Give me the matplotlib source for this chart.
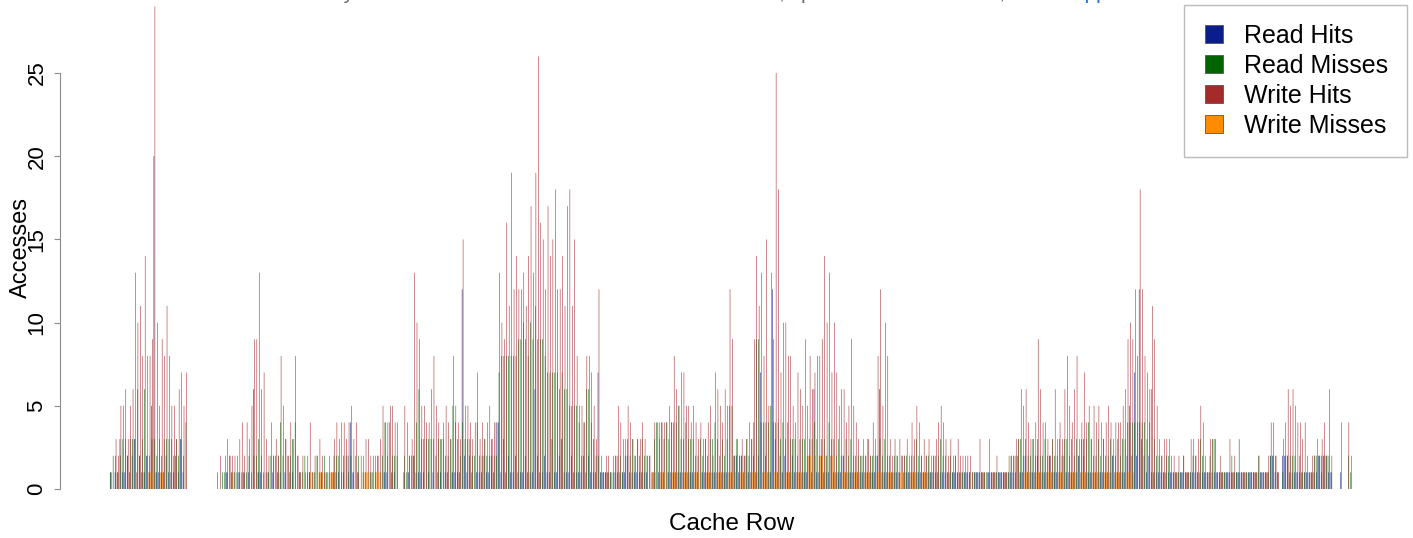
import numpy as np
import matplotlib
matplotlib.use('Agg')
import matplotlib.pyplot as plt
from matplotlib.lines import Line2D

# one value per cache row (512 rows)
series_names = ['Read Hits', 'Read Misses', 'Write Hits', 'Write Misses']
series_colors = ['#0b1d8c', '#006400', '#a52a2a', '#ff8c00']

read_hits = [
    1,0,1,1,3,1,1,2, 1,2,3,1,2,1,1,2, 1,5,20,1,1,1,1,2, 1,1,1,2,1,3,1,0,
    0,0,0,0,0,0,0,0, 0,0,0,0,0,0,0,0, 1,0,1,0,0,1,0,1, 0,1,0,6,0,1,1,0,
    0,1,0,1,0,1,1,0, 1,0,1,1,0,0,1,0, 0,0,1,0,0,0,0,1, 0,0,0,0,1,1,1,0,
    1,0,2,4,1,0,1,0, 0,0,0,0,0,0,0,0, 0,1,1,0,1,1,0,0, 0,1,0,1,0,2,1,1,
    1,1,0,1,0,1,0,1, 1,0,1,1,0,1,1,1, 1,12,2,1,2,1,0,1, 1,1,2,1,1,2,1,4,
    4,1,3,1,2,1,1,2, 1,1,1,2,1,1,1,6, 2,1,1,2,1,1,3,1, 1,2,3,1,1,1,2,1,
    1,1,1,2,1,2,1,1, 1,7,1,1,1,1,1,0, 1,1,1,1,1,2,1,1, 1,1,1,1,1,1,0,0,
    1,0,1,1,1,0,1,1, 1,1,1,1,1,1,1,1, 1,1,1,0,1,1,1,1, 1,1,1,1,1,1,1,1,
    1,2,2,1,2,1,2,1, 1,2,1,2,7,1,2,1, 1,12,3,1,2,1,2,1, 1,2,1,1,1,1,1,1,
    2,1,6,1,1,2,1,1, 1,2,1,1,1,1,2,1, 1,1,1,1,1,1,1,1, 1,1,1,1,2,6,1,1,
    1,1,1,1,1,1,0,1, 1,1,1,1,1,1,1,1, 1,1,1,1,1,1,1,1, 1,1,1,1,1,1,1,1,
    1,1,1,0,1,1,1,1, 1,0,1,1,1,1,1,1, 1,1,1,1,1,1,2,1, 1,2,1,1,1,1,2,1,
    1,1,1,2,1,1,1,1, 1,2,1,1,1,1,1,2, 1,3,1,1,1,1,1,1, 1,1,1,1,1,2,1,1,
    1,1,1,2,5,2,7,2, 12,3,2,1,2,1,1,1, 1,1,1,1,1,1,1,1, 1,1,1,1,1,1,1,1,
    1,1,1,1,1,1,1,1, 1,1,1,1,1,1,1,1, 1,1,1,1,1,1,1,1, 1,1,1,1,1,1,2,2,
    1,1,0,2,2,2,1,1, 1,1,1,1,1,1,1,1, 1,1,2,2,2,2,1,1, 0,0,0,1,0,0,0,0,
]

read_misses = [
    1,2,2,1,2,3,3,2, 3,3,3,6,2,3,6,2, 2,3,3,2,3,2,3,3, 3,3,2,3,2,3,2,4,
    0,0,0,0,0,0,0,0, 0,0,0,0,1,0,1,1, 1,2,1,1,1,1,1,1, 1,2,1,2,2,3,2,1,
    1,1,2,2,2,2,4,2, 3,2,2,3,4,2,1,1, 2,1,1,1,1,2,1,1, 2,1,1,1,2,2,2,1,
    2,2,1,2,1,2,2,0, 1,1,1,1,1,1,2,1, 2,4,2,4,2,2,2,0, 0,2,1,2,2,2,4,6,
    3,3,3,3,3,3,2,3, 3,3,2,2,3,5,4,3, 2,4,3,3,3,2,2,4, 2,2,3,2,2,3,2,2,
    7,8,8,8,8,8,8,8, 9,9,10,9,8,10,9,11, 9,9,9,8,7,7,7,7, 7,6,7,6,6,5,5,5,
    5,4,2,4,6,6,4,3, 2,2,1,1,1,1,1,1, 2,2,2,1,2,3,2,3, 2,3,2,3,2,2,2,1,
    3,4,4,4,3,4,3,4, 4,4,5,3,3,4,3,3, 3,2,2,3,2,3,2,3, 3,4,3,2,3,2,3,5,
    5,2,3,2,2,2,3,2, 3,4,9,9,4,4,4,4, 5,4,4,4,3,4,3,4, 3,3,3,2,3,3,3,2,
    3,3,4,3,2,3,3,2, 4,3,3,2,3,2,2,3, 2,3,2,2,2,2,2,2, 3,2,2,2,2,3,2,3,
    2,2,1,2,2,1,2,2, 2,1,2,2,3,2,2,1, 2,2,1,2,2,2,3,2, 2,1,2,1,2,1,1,1,
    1,1,1,1,1,1,1,1, 1,1,1,1,1,1,1,1, 1,1,1,2,2,2,3,3, 2,3,2,2,3,2,3,2,
    2,3,2,2,3,2,2,3, 2,3,3,2,3,2,3,2, 3,2,3,4,3,2,2,3, 2,3,2,2,3,2,2,3,
    2,3,3,4,4,4,4,4, 4,4,4,3,4,6,3,2, 2,2,1,2,2,1,1,1, 1,1,2,1,1,1,2,2,
    1,3,2,1,1,2,3,3, 1,1,1,1,1,1,2,1, 1,3,1,1,1,1,1,1, 1,2,1,1,1,1,2,2,
    2,1,0,1,2,2,2,2, 2,1,2,1,1,1,1,1, 2,2,2,1,2,2,2,1, 0,0,0,0,0,0,2,1,
]

write_hits = [
    1,0,3,2,5,5,6,3, 5,6,13,10,11,8,14,8, 8,9,29,10,5,9,8,11, 8,5,5,3,6,7,5,7,
    0,0,0,0,0,0,0,0, 0,0,0,0,0,2,0,2, 3,2,2,2,2,3,4,2, 4,3,5,9,9,13,6,7,
    3,2,4,2,3,2,8,5, 3,2,4,3,8,2,1,2, 1,2,4,1,2,2,3,2, 1,1,2,1,3,4,3,4,
    4,3,4,5,3,4,1,2, 2,3,3,2,2,2,2,3, 5,4,4,5,5,4,4,0, 0,5,4,2,3,13,10,9,
    5,5,4,4,6,8,5,4, 3,4,5,4,3,8,5,4, 3,15,5,5,4,3,4,7, 3,4,3,4,5,3,4,4,
    13,10,9,16,11,19,12,14, 12,12,13,11,14,17,13,19, 26,16,15,12,17,14,15,18, 12,12,14,11,17,18,11,15,
    8,5,5,4,8,8,7,5, 3,12,2,1,2,2,1,2, 2,5,4,3,3,5,4,3, 2,3,3,4,3,2,2,1,
    4,4,3,4,4,4,5,4, 8,6,5,7,7,5,5,4, 5,4,3,4,3,3,4,5, 2,7,6,5,4,6,5,12,
    9,2,3,2,3,2,3,4, 3,9,14,11,13,8,15,5, 13,9,25,18,7,10,10,8, 8,5,4,7,6,5,9,5,
    8,6,7,8,8,9,14,10, 13,7,10,7,5,6,6,4, 5,9,5,4,3,2,3,2, 3,2,4,3,8,12,5,10,
    8,3,2,3,2,3,2,2, 3,2,4,3,5,4,2,3, 2,3,2,2,3,4,5,4, 3,2,3,2,2,3,2,2,
    2,2,2,1,1,1,3,1, 1,1,3,1,1,2,1,1, 1,1,2,2,2,3,3,6, 5,6,4,3,3,4,9,6,
    4,4,3,2,3,6,3,4, 3,6,8,5,4,6,8,3, 4,7,4,5,3,5,4,5, 4,3,4,5,4,3,4,4,
    4,5,6,9,10,9,12,8, 18,12,8,7,6,11,9,5, 3,2,3,3,3,2,2,1, 2,1,2,1,1,3,3,2,
    3,5,4,2,1,3,3,3, 1,2,1,1,1,3,1,2, 1,1,1,1,1,1,1,1, 1,2,1,1,1,2,4,4,
    2,1,0,3,4,6,5,6, 5,4,4,3,4,2,1,2, 2,3,2,3,4,2,6,2, 0,0,0,4,0,0,4,2,
]

write_misses = [
    0,0,0,0,0,0,0,0, 0,0,1,0,0,1,0,1, 1,1,1,0,1,1,0,0, 1,0,0,0,0,0,0,0,
    0,0,0,0,0,0,0,0, 0,0,0,0,0,0,0,0, 0,0,1,0,0,0,0,0, 0,0,0,0,1,0,0,0,
    0,0,0,0,0,0,0,0, 0,0,0,0,0,0,0,0, 0,0,1,1,1,1,1,1, 1,1,1,1,1,0,0,0,
    0,0,0,0,0,0,0,1, 1,1,1,1,1,1,1,1, 1,0,0,0,0,0,0,0, 0,0,1,0,0,0,0,0,
    0,0,0,1,0,0,0,0, 0,0,0,0,1,0,0,0, 0,0,0,0,0,0,0,0, 0,0,0,0,0,0,0,0,
    0,0,0,0,0,0,0,0, 0,0,0,0,0,0,0,0, 0,0,0,0,0,0,0,0, 0,0,0,0,0,0,0,0,
    0,0,0,0,0,0,0,0, 0,0,0,0,0,0,0,0, 0,0,0,0,0,0,0,0, 0,0,0,0,0,0,0,1,
    1,1,1,1,1,1,1,1, 1,1,1,1,1,1,1,1, 1,1,1,1,1,1,1,1, 1,1,1,1,1,1,1,1,
    1,1,1,1,1,1,1,1, 1,1,1,1,1,1,1,1, 1,1,1,1,1,1,1,1, 1,1,1,1,1,1,2,2,
    2,2,2,2,2,2,2,2, 2,2,1,1,1,1,1,1, 1,1,1,1,1,1,1,1, 1,1,1,1,1,1,1,1,
    1,1,1,1,1,1,1,1, 1,1,1,1,1,1,1,1, 1,1,1,0,0,0,0,0, 0,0,0,0,0,0,0,0,
    0,0,0,0,0,0,0,0, 0,0,0,0,0,0,0,0, 0,0,0,0,0,0,1,1, 1,1,1,1,1,1,1,1,
    1,1,1,1,1,1,1,1, 1,1,1,1,1,1,1,1, 1,1,1,1,1,1,1,1, 1,1,1,1,1,1,1,1,
    1,1,1,1,1,1,0,0, 0,0,0,0,0,0,0,0, 0,0,0,0,0,0,0,0, 0,0,0,0,0,0,0,0,
    0,0,0,0,0,0,0,0, 0,0,0,0,0,0,0,0, 0,0,0,0,0,0,0,0, 0,0,0,0,0,0,0,0,
    0,0,0,0,0,0,0,0, 0,0,0,0,0,0,0,0, 0,0,0,0,0,0,0,0, 0,0,0,0,0,0,0,0,
]

y_ticks = [0, 5, 10, 15, 20, 25]

plt.rcParams['font.family'] = ['Liberation Sans', 'DejaVu Sans']

W, H = 1413, 538
fig = plt.figure(figsize=(W / 100, H / 100), dpi=100)

# plot box in pixels
ax_l, ax_r, ax_t, ax_b = 60, 1360, 0, 505
ax = fig.add_axes([ax_l / W, 1 - ax_b / H, (ax_r - ax_l) / W, (ax_b - ax_t) / H])

values = [read_hits, read_misses, write_hits, write_misses]
n_rows = len(read_hits)
group = np.arange(n_rows) * 5  # 4 bars side by side + 1 gap, like R barplot(beside=TRUE)
for k, (vals, col, name) in enumerate(zip(values, series_colors, series_names)):
    ax.bar(group + 1.5 + k, vals, width=1.1, color=col, linewidth=0,
           snap=False, label=name)

# first bar edge at x=110 px, last one at x=1352 px, zero at y=489 px
px_per_unit = (1352 - 110) / (n_rows * 5 - 1)
xmin = 1 - (110 - ax_l) / px_per_unit
ax.set_xlim(xmin, xmin + (ax_r - ax_l) / px_per_unit)
px_per_val = 16.64
ax.set_ylim(-(ax_b - 489) / px_per_val, (489 - ax_t) / px_per_val)

for s in ['top', 'right', 'bottom']:
    ax.spines[s].set_visible(False)
ax.spines['left'].set_bounds(0, 25)
ax.spines['left'].set_color('#8c8c8c')
ax.set_xticks([])
ax.set_yticks(y_ticks)
ax.set_yticklabels([str(t) for t in y_ticks], rotation=90, va='center')
ax.tick_params(axis='y', length=4, width=0.8, color='#8c8c8c', labelsize=16, pad=5)

fig.text(21 / W, 1 - 247 / H, 'Accesses', rotation=90, ha='center', va='center', fontsize=17)
fig.text(732 / W, 1 - 524 / H, 'Cache Row', ha='center', va='center', fontsize=17.5)

# title sits mostly above the picture edge, only its lowest pixels show
fig.text(1070 / W, 1 + 1 / H,
         'Accesses to every cache row of the simulated benchmark cache, split in hits and misses, for the',
         ha='right', va='baseline', color='#6a6a7a', fontsize=15)
fig.text(1073 / W, 1 + 1 / H, 'application', ha='left', va='baseline',
         color='#2f6fe0', fontsize=15)

handles = [Line2D([], [], marker='s', linestyle='none', markersize=12.5,
                  markerfacecolor=c, markeredgecolor='#555555', markeredgewidth=0.6)
           for c in series_colors]
leg = fig.legend(handles, series_names, loc='upper right',
                 bbox_to_anchor=(1407 / W, 1 - 5 / H), bbox_transform=fig.transFigure,
                 fontsize=18, frameon=True, fancybox=False, edgecolor='#aaaaaa',
                 borderpad=0.75, labelspacing=0.24, handlelength=0.9,
                 handletextpad=0.76, borderaxespad=0)
leg.get_frame().set_linewidth(1.0)

fig.savefig('out.png', dpi=100)
